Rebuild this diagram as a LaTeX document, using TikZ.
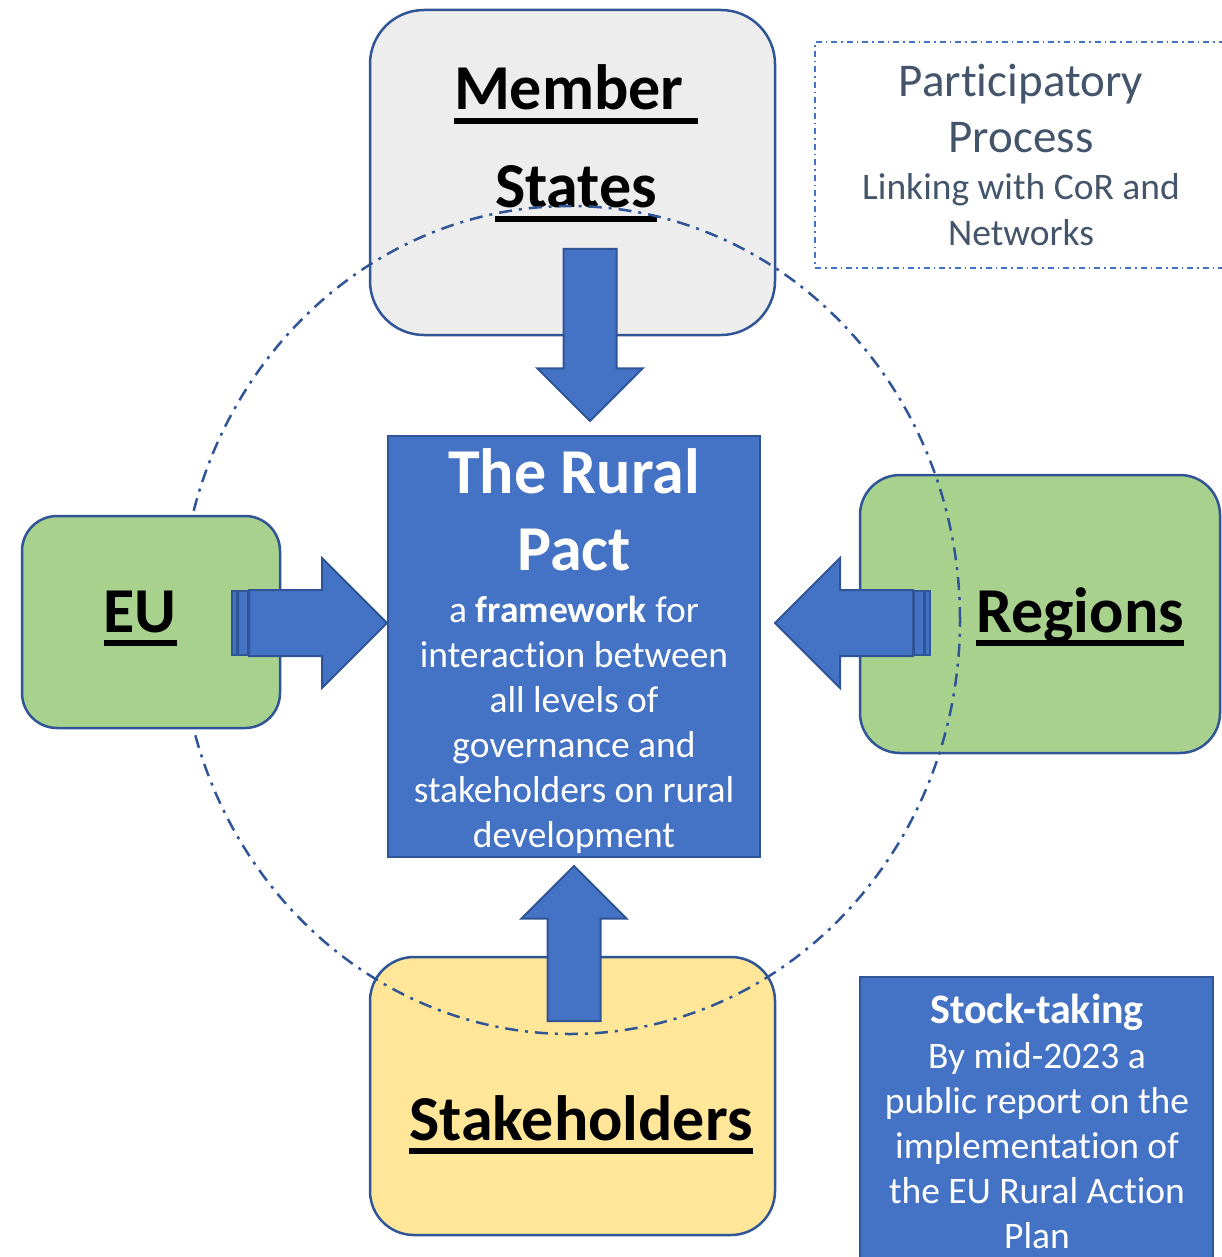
\documentclass[tikz,border=0pt]{standalone}
\usepackage{fontspec}
\setmainfont{Carlito}[Ligatures=NoCommon]
\usetikzlibrary{shapes.arrows, positioning}

\definecolor{edgeblue}{RGB}{47,85,151}
\definecolor{pactblue}{RGB}{68,114,196}
\definecolor{grayfill}{RGB}{237,237,237}
\definecolor{greenfill}{RGB}{169,209,142}
\definecolor{yellowfill}{RGB}{255,230,153}
\definecolor{slate}{RGB}{68,84,106}

\newlength\ulwd
\newcommand\uln[1]{\mbox{\settowidth\ulwd{#1}\rlap{\rule[-14pt]{\ulwd}{6pt}}#1}}

\tikzstyle{blockg} = [rectangle, draw=edgeblue, line width=2.5pt, rounded corners=54pt, fill=grayfill]
\tikzstyle{blockgr} = [rectangle, draw=edgeblue, line width=2.5pt, rounded corners=40pt, fill=greenfill]
\tikzstyle{blocky} = [rectangle, draw=edgeblue, line width=2.5pt, rounded corners=44pt, fill=yellowfill]
\tikzstyle{blockb} = [rectangle, draw=edgeblue, line width=2.5pt, fill=pactblue]
\tikzstyle{blockdash} = [rectangle, draw=pactblue, line width=2pt, dash pattern=on 6pt off 4pt on 1.5pt off 4pt]
\tikzstyle{bigtext} = [inner sep=0, align=center, font=\bfseries\fontsize{64}{98}\selectfont]
\tikzstyle{smalltext} = [inner sep=0, align=center, font=\fontsize{37.5}{45}\selectfont]
\tikzstyle{fatarrow} = [single arrow, draw=edgeblue, fill=pactblue, line width=2pt, inner xsep=0pt, outer sep=0pt, single arrow tip angle=90]
\tikzstyle{stripe} = [rectangle, draw=edgeblue, fill=pactblue, line width=1.5pt, inner sep=0, outer sep=0, minimum height=64pt]
\tikzstyle{ring} = [draw=edgeblue, line width=2.5pt, dash pattern=on 13pt off 7pt on 3pt off 7pt]

\begin{document}
\begin{tikzpicture}[x=1pt, y=-1pt]
\useasboundingbox (0,0) rectangle (1221,1257);

% the four partners
\node [blockg, minimum width=405pt, minimum height=325pt] (MS) at (572.5,172.5) {};
\node [blockgr, minimum width=360pt, minimum height=278pt] (RG) at (1040,614) {};
\node [blocky, minimum width=405pt, minimum height=278pt] (SH) at (572.5,1096) {};

\node [bigtext, anchor=base] (MStext) at (576,208) {\uln{Member\ }\\\uln{States}};
\node [bigtext, anchor=base] (RGtext) at (1080,632) {\uln{Regions}};
\node [bigtext, anchor=base] (SHtext) at (581,1140) {\uln{Stakeholders}};

\draw [ring] (570,620) ellipse [x radius=390pt, y radius=414pt];

\node [blockgr, rounded corners=35pt, minimum width=258pt, minimum height=212pt] (EU) at (151,622) {};
\node [bigtext, anchor=base] (EUtext) at (140,632) {\uln{EU}};

% participatory process
\node [blockdash, minimum width=425pt, minimum height=226pt] (PP) at (1027.5,155) {};
\node [inner sep=0, align=center, text=slate, font=\fontsize{47}{56}\selectfont, anchor=base] (PPtitle) at (1021,153) {Participatory\\Process};
\node [smalltext, text=slate, anchor=base] (PPtext) at (1021,245) {Linking with CoR and\\Networks};

% the pact
\node [blockb, minimum width=372pt, minimum height=421pt] (RP) at (574,646.5) {};
\node [bigtext, text=white, font=\bfseries\fontsize{64}{77}\selectfont, anchor=base] (RPtitle) at (574,570) {The Rural\\Pact};
\node [smalltext, text=white, anchor=base] (RPtext) at (574,847) {a \textbf{framework} for\\interaction between\\all levels of\\governance and\\stakeholders on rural\\development};

% stock-taking
\node [blockb, minimum width=353pt, minimum height=298pt] (ST) at (1036.5,1126) {};
\node [smalltext, text=white, anchor=base] (STtext) at (1037,1248) {{\bfseries\fontsize{42}{45}\selectfont Stock-taking}\\By mid-2023 a\\public report on the\\implementation of\\the EU Rural Action\\Plan};

% arrows into the pact
\node [fatarrow, inner ysep=25.5pt, single arrow head extend=26pt, minimum height=172pt, rotate=-90, anchor=tail] (arrMS) at (590,249) {};
\node [fatarrow, inner ysep=25.5pt, single arrow head extend=26pt, minimum height=155pt, rotate=90, anchor=tail] (arrSH) at (574,1021) {};
\node [fatarrow, inner ysep=32pt, single arrow head extend=32pt, minimum height=138pt, anchor=tail] (arrEU) at (249,623) {};
\node [stripe, minimum width=9pt, left=1.5pt of arrEU.tail] (EUs2) {};
\node [stripe, minimum width=5pt, left=1.5pt of EUs2] (EUs1) {};
\node [fatarrow, inner ysep=32pt, single arrow head extend=32pt, minimum height=138pt, rotate=180, anchor=tail] (arrRG) at (913,623) {};
\node [stripe, minimum width=9pt, right=1.5pt of arrRG.tail] (RGs2) {};
\node [stripe, minimum width=5pt, right=1.5pt of RGs2] (RGs1) {};

\end{tikzpicture}
\end{document}
